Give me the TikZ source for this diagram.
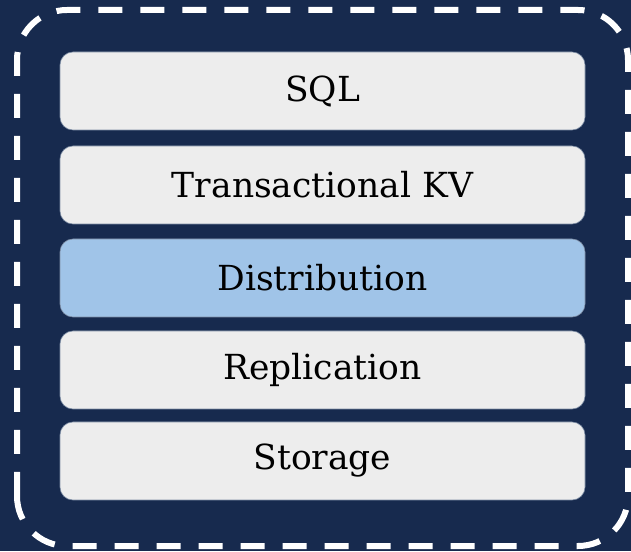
\documentclass[tikz,border=0pt]{standalone}
\usepackage{fontspec}
\setmainfont{DejaVu Serif}
\definecolor{navy}{HTML}{172A4E}
\definecolor{boxgray}{HTML}{EDEDED}
\definecolor{boxblue}{HTML}{A0C4E8}
\definecolor{boxedge}{HTML}{7F8FA6}
\begin{document}
\begin{tikzpicture}[x=1pt,y=1pt,
  layer/.style={draw=boxedge, line width=0.6pt, rounded corners=13pt, minimum width=525pt, minimum height=78pt, inner sep=0pt, font=\fontsize{34.5}{40}\selectfont, text=black},
  grayl/.style={layer, fill=boxgray},
  bluel/.style={layer, fill=boxblue},
  frame/.style={draw=white, line width=6pt, dash pattern=on 24pt off 18pt, rounded corners=50pt}]
\fill[navy] (0,0) rectangle (631,551);
\useasboundingbox (0,0) rectangle (631,551);
\draw[frame] (17,5) rectangle (628,541);
\node[grayl] (sql) at (322.5,460) {SQL};
\node[grayl] (tkv) at (322.5,366) {Transactional KV};
\node[bluel] (dist) at (322.5,273) {Distribution};
\node[grayl] (repl) at (322.5,181) {Replication};
\node[grayl] (stor) at (322.5,90) {Storage};
\end{tikzpicture}
\end{document}
